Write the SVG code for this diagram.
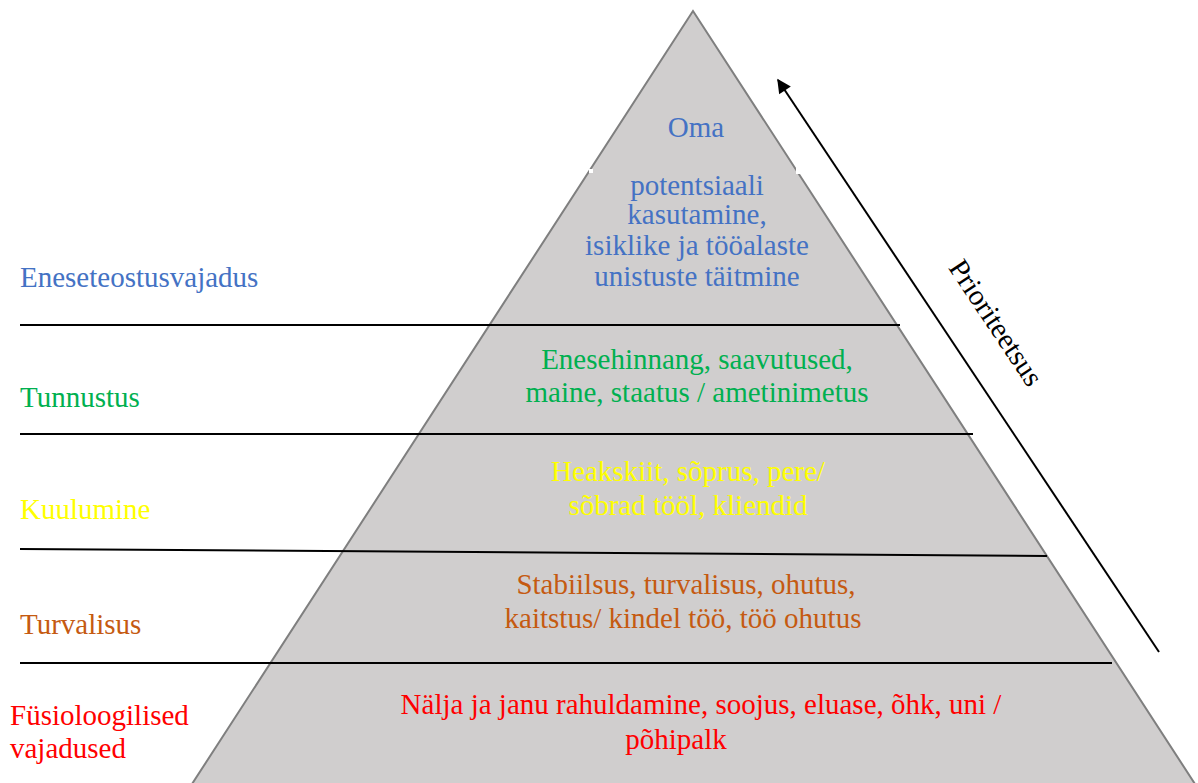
<svg xmlns="http://www.w3.org/2000/svg" width="1198" height="783" viewBox="0 0 1198 783">
<style>
text{font-family:"Liberation Serif","Times New Roman",serif;font-size:29px}
.c{text-anchor:middle}
.blue{fill:#4472c4}.green{fill:#00b050}.yellow{fill:#ffff00}.orange{fill:#c55a11}.red{fill:#ff0000}
.sep{stroke:#000;stroke-width:2;fill:none}
</style>
<defs>
<marker id="ah" viewBox="0 0 10 10" refX="9" refY="5" markerWidth="18" markerHeight="14" markerUnits="userSpaceOnUse" orient="auto">
<path d="M0,0 L10,5 L0,10 z" fill="#000"/>
</marker>
</defs>
<g id="pyramid">
<polygon points="693,11 192,784 1195,784" fill="#d0cece" stroke="#7f7f7f" stroke-width="2"/>
<rect x="589" y="169" width="4" height="4" fill="#fff"/>
<rect x="796" y="168" width="6" height="6" fill="#fff"/>
</g>
<g id="connectors">
<line class="sep" x1="20" y1="325" x2="900" y2="325"/>
<line class="sep" x1="20" y1="434" x2="973" y2="434"/>
<line class="sep" x1="20" y1="549" x2="1047" y2="556"/>
<line class="sep" x1="20" y1="663" x2="1112" y2="663"/>
<line x1="1159" y1="652" x2="778" y2="80" stroke="#000" stroke-width="2" marker-end="url(#ah)"/>
</g>
<g id="level-self">
<text class="blue" x="20" y="287">Eneseteostusvajadus</text>
<text class="blue c" x="696" y="137">Oma</text>
<text class="blue c" x="697" y="195">potentsiaali</text>
<text class="blue c" x="697" y="224">kasutamine,</text>
<text class="blue c" x="697" y="255">isiklike ja tööalaste</text>
<text class="blue c" x="697" y="286">unistuste täitmine</text>
</g>
<g id="level-esteem">
<text class="green" x="20" y="407">Tunnustus</text>
<text class="green c" x="697" y="369">Enesehinnang, saavutused,</text>
<text class="green c" x="697" y="402">maine, staatus / ametinimetus</text>
</g>
<g id="level-belonging">
<text class="yellow" x="20" y="519">Kuulumine</text>
<text class="yellow c" x="688" y="481">Heakskiit, sõprus, pere/</text>
<text class="yellow c" x="688" y="515">sõbrad tööl, kliendid</text>
</g>
<g id="level-safety">
<text class="orange" x="20" y="634">Turvalisus</text>
<text class="orange c" x="686" y="594">Stabiilsus, turvalisus, ohutus,</text>
<text class="orange c" x="683" y="628">kaitstus/ kindel töö, töö ohutus</text>
</g>
<g id="level-physio">
<text class="red" x="10" y="725">Füsioloogilised</text>
<text class="red" x="10" y="758">vajadused</text>
<text class="red c" x="701" y="714">Nälja ja janu rahuldamine, soojus, eluase, õhk, uni /</text>
<text class="red c" x="676" y="749">põhipalk</text>
</g>
<g id="priority-label">
<text class="c" x="0" y="0" transform="translate(988,328) rotate(56.3)" fill="#000">Prioriteetsus</text>
</g>
</svg>
